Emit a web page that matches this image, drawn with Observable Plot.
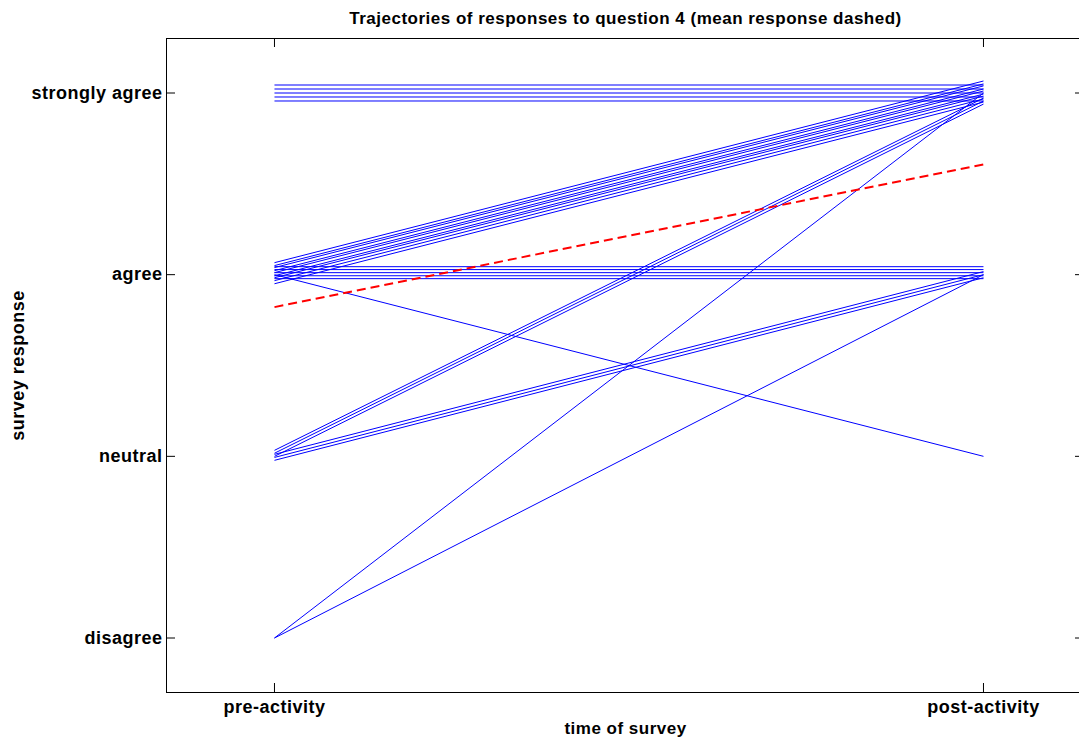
<!DOCTYPE html>
<html>
<head>
<meta charset="utf-8">
<script src="https://cdn.jsdelivr.net/npm/d3@7"></script>
<script src="https://cdn.jsdelivr.net/npm/@observablehq/plot@0.6"></script>
<style>
  html, body { margin: 0; padding: 0; background: #fff; overflow: hidden; }
  #chart svg { max-width: none !important; }
</style>
</head>
<body>
<div id="chart"></div>
<script>
// ---- data (small vertical jitter included) ----
const title = "Trajectories of responses to question 4 (mean response dashed)";
const xTicks = [1, 2];
const xLabels = ["pre-activity", "post-activity"];
const yTicks = [1, 2, 3, 4];
const yLabels = ["disagree", "neutral", "agree", "strongly agree"];
const xTitle = "time of survey";
const yTitle = "survey response";

// pre-activity response of each respondent (jittered)
const preResponse = [
  4.044, 4.022, 4.000, 3.978, 3.956,                      // strongly agree -> strongly agree
  3.066, 3.050, 3.039, 3.022, 3.011, 2.994, 2.983, 2.967, 2.950, // agree -> strongly agree
  3.044, 3.028, 3.011, 2.994, 2.978,                      // agree -> agree
  3.000,                                                  // agree -> neutral
  2.033, 2.017, 2.000,                                    // neutral -> strongly agree
  2.011, 1.994, 1.978,                                    // neutral -> agree
  1.000,                                                  // disagree -> strongly agree
  1.000                                                   // disagree -> agree
];
// post-activity response of each respondent (jittered)
const postResponse = [
  4.044, 4.022, 4.000, 3.978, 3.956,
  4.066, 4.050, 4.039, 4.022, 4.011, 3.994, 3.983, 3.967, 3.950,
  3.044, 3.028, 3.011, 2.994, 2.978,
  2.000,
  3.972, 3.956, 3.939,
  3.017, 3.000, 2.983,
  4.000,
  3.000
];

// ---- layout ----
const W = 1100, H = 739;
const mL = 166, mT = 38, mB = 47, mR = 16;
const xDomain = [0.8477, 2.1425];
const yDomain = [0.7, 4.3];
const pxPerX = (W - mL - mR) / (xDomain[1] - xDomain[0]);
const pxPerY = (H - mT - mB) / (yDomain[1] - yDomain[0]);
const tickPx = 9;
const tx = tickPx / pxPerX, ty = tickPx / pxPerY;

const trajectories = preResponse.map((p, i) => ({pre: p, post: postResponse[i]}));
const mean = [{
  pre: d3.mean(preResponse, v => Math.round(v)),
  post: d3.mean(postResponse, v => Math.round(v))
}];

const font = "'Liberation Sans', Arial, Helvetica, sans-serif";

const chart = Plot.plot({
  width: W,
  height: H,
  marginLeft: mL,
  marginTop: mT,
  marginBottom: mB,
  marginRight: mR,
  style: {fontFamily: font, fontSize: "18px", fontWeight: "bold", color: "#000", background: "#fff", letterSpacing: "0.5px"},
  x: {domain: xDomain},
  y: {domain: yDomain},
  marks: [
    Plot.link(trajectories, {
      x1: () => xTicks[0], x2: () => xTicks[1],
      y1: "pre", y2: "post",
      stroke: "#0000ff", strokeWidth: 1
    }),
    Plot.link(mean, {
      x1: () => xTicks[0], x2: () => xTicks[1],
      y1: "pre", y2: "post",
      stroke: "#ff0000", strokeWidth: 2, strokeDasharray: "9,5"
    }),
    // inward tick marks (MATLAB style, all four sides)
    Plot.ruleX(xTicks, {x: d => d, y1: yDomain[0], y2: yDomain[0] + ty, stroke: "#000"}),
    Plot.ruleX(xTicks, {x: d => d, y1: yDomain[1], y2: yDomain[1] - ty, stroke: "#000"}),
    Plot.ruleY(yTicks, {y: d => d, x1: xDomain[0], x2: xDomain[0] + tx, stroke: "#000"}),
    Plot.ruleY(yTicks, {y: d => d, x1: xDomain[1], x2: xDomain[1] - tx, stroke: "#000"}),
    Plot.frame({stroke: "#000", strokeWidth: 1}),
    Plot.axisX({ticks: xTicks, tickFormat: d => xLabels[d - 1], tickSize: 0, tickPadding: 8, label: null, fontSize: 18}),
    Plot.axisY({ticks: yTicks, tickFormat: d => yLabels[d - 1], tickSize: 0, tickPadding: 4, label: null, fontSize: 18}),
    Plot.text([title], {frameAnchor: "top", lineAnchor: "middle", dy: -20, fontSize: 17, fill: "#000"}),
    Plot.text([xTitle], {frameAnchor: "bottom", lineAnchor: "middle", dy: 36, fontSize: 17, fill: "#000"}),
    Plot.text([yTitle], {frameAnchor: "left", textAnchor: "middle", lineAnchor: "middle", dx: -148, rotate: -90, fontSize: 18, fill: "#000"})
  ]
});

document.getElementById("chart").appendChild(chart);
</script>
</body>
</html>
